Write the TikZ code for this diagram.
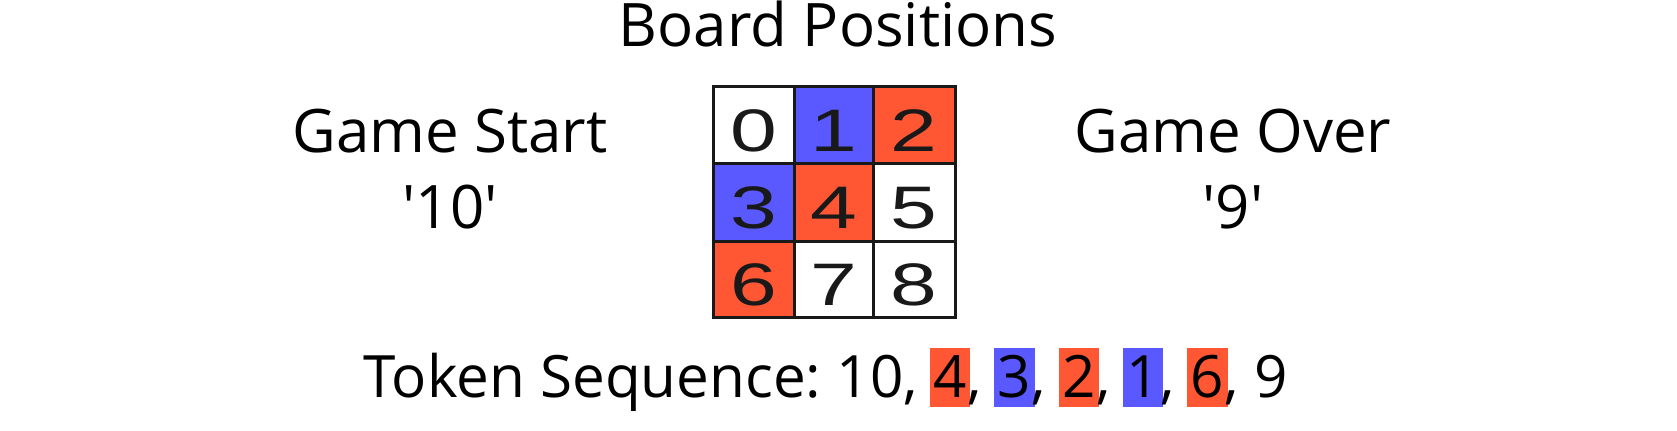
\documentclass[tikz,border=0pt]{standalone}
\usepackage{fontspec}
\setmainfont{Open Sans}
\newfontfamily\cellfont[FakeStretch=1.4]{Liberation Sans}
\definecolor{pred}{HTML}{FF5733}
\definecolor{pblue}{HTML}{5959FF}
\newcommand{\tok}[2]{{\setlength{\fboxsep}{0pt}\hspace{-1.4pt}\colorbox{#1}{\hspace{1.75pt}\rule[-4.5pt]{0pt}{29.5pt}#2\hspace{1.75pt}}\hspace{-1.4pt}}}
\tikzset{
  lbl/.style={inner sep=0pt, anchor=base, font=\fontsize{30pt}{36pt}\selectfont},
  cell/.style={inner sep=0pt, anchor=base, text=black!90, font=\cellfont\fontsize{30pt}{36pt}\selectfont},
}
\begin{document}
\frenchspacing
\begin{tikzpicture}[x=.5pt, y=-.5pt, line width=1.5pt, draw=black!90]
	\useasboundingbox (0,0) rectangle (1677,431);
	\node[lbl] (title) at (838,47)  {Board Positions};
	\node[lbl] (start) at (450,153) {Game Start};
	\node[lbl] (startid) at (450,229) {\textquotesingle10\textquotesingle};
	\node[lbl] (over) at (1233,153) {Game Over};
	\node[lbl] (overid) at (1233,229) {\textquotesingle9\textquotesingle};
	% board
	\draw              (713,87)  rectangle (794,164);
	\filldraw[fill=pblue] (794,87)  rectangle (873,164);
	\filldraw[fill=pred]  (873,87)  rectangle (955,164);
	\filldraw[fill=pblue] (713,164) rectangle (794,242);
	\filldraw[fill=pred]  (794,164) rectangle (873,242);
	\draw              (873,164) rectangle (955,242);
	\filldraw[fill=pred]  (713,242) rectangle (794,318);
	\draw              (794,242) rectangle (873,318);
	\draw              (873,242) rectangle (955,318);
	\node[cell] (c0) at (753.5,152) {0};
	\node[cell] (c1) at (833.5,152) {1};
	\node[cell] (c2) at (914,152)   {2};
	\node[cell] (c3) at (753.5,229) {3};
	\node[cell] (c4) at (833.5,229) {4};
	\node[cell] (c5) at (914,229)   {5};
	\node[cell] (c6) at (753.5,306) {6};
	\node[cell] (c7) at (833.5,306) {7};
	\node[cell] (c8) at (914,306)   {8};
	% sequence
	\node[lbl, anchor=base west, font=\fontsize{29.2pt}{35pt}\selectfont] (seq) at (362,398)
		{Token Sequence: 10, \tok{pred}{4}, \tok{pblue}{3}, \tok{pred}{2}, \tok{pblue}{1}, \tok{pred}{6}, 9};
\end{tikzpicture}
\end{document}
